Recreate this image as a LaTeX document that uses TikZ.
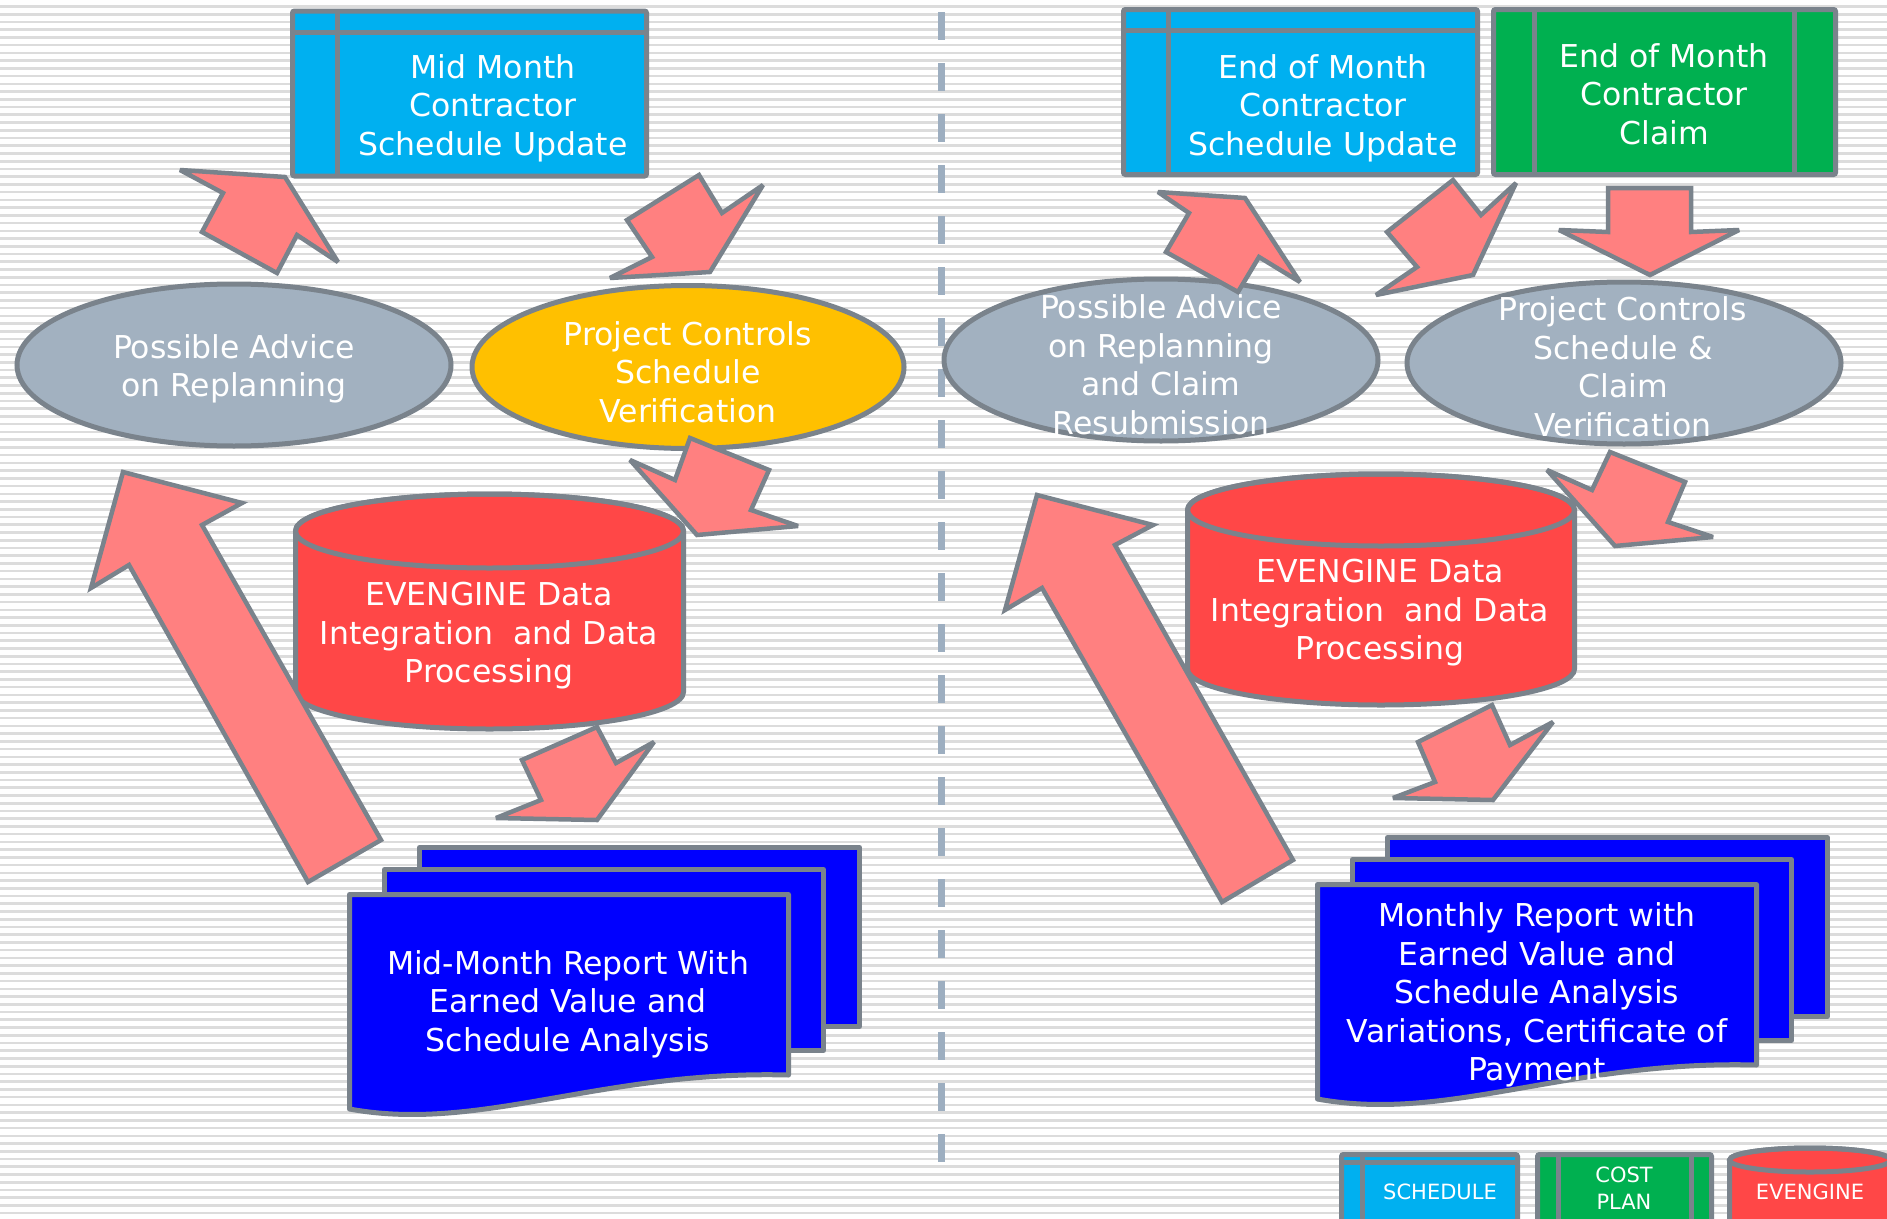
\documentclass[tikz,border=0pt]{standalone}
\usepackage{fontspec}
\setmainfont{DejaVu Sans}
\usetikzlibrary{shapes.geometric}
\definecolor{bord}{HTML}{7A838C}
\definecolor{stripe}{HTML}{DCDCDC}
\definecolor{schedblue}{HTML}{00B0F0}
\definecolor{costgreen}{HTML}{00B050}
\definecolor{evred}{HTML}{FF4747}
\definecolor{advgray}{HTML}{A2B1C0}
\definecolor{pcyellow}{HTML}{FFC000}
\definecolor{arrowpink}{HTML}{FF8080}
\definecolor{docblue}{HTML}{0000FF}
\definecolor{sepline}{HTML}{9DAEC0}
\tikzset{
  outl/.style={draw=bord, line width=5pt},
  boxshape/.style={rectangle, outl, outer sep=0pt, inner sep=0pt, rounded corners=2pt},
  schedbox/.style={boxshape, fill=schedblue},
  costbox/.style={boxshape, fill=costgreen},
  innerline/.style={draw=bord, line width=5pt},
  ellshape/.style={ellipse, outl, inner sep=0pt, outer sep=0pt, minimum width=434pt, minimum height=162pt},
  cylstyle/.style={fill=evred, draw=bord, line width=5pt},
  docsheet/.style={fill=docblue, draw=bord, line width=5pt, line join=round},
  blockarrow/.style={fill=arrowpink, draw=bord, line width=4.5pt, line join=miter, miter limit=3},
  lbl/.style={text=white, align=center, font=\fontsize{31.5}{38.5}\selectfont, inner sep=0pt},
  leglbl/.style={text=white, align=center, font=\fontsize{21}{27}\selectfont, inner sep=0pt},
}
\newcommand{\evcyl}[6]{%
  \pgfmathsetmacro{\cxa}{(#1+#2)/2}%
  \pgfmathsetmacro{\rxa}{(#2-#1)/2}%
  \pgfmathsetmacro{\kxa}{0.5523*\rxa}%
  \pgfmathsetmacro{\kya}{0.5523*#5}%
  \pgfmathsetmacro{\ybb}{#4+#5}%
  \pgfmathsetmacro{\ytt}{#3-#5}%
  \path[#6] (#1,#3) -- (#1,#4) .. controls (#1,#4+\kya) and (\cxa-\kxa,\ybb) .. (\cxa,\ybb)
    .. controls (\cxa+\kxa,\ybb) and (#2,#4+\kya) .. (#2,#4) -- (#2,#3)
    .. controls (#2,#3-\kya) and (\cxa+\kxa,\ytt) .. (\cxa,\ytt)
    .. controls (\cxa-\kxa,\ytt) and (#1,#3-\kya) .. (#1,#3) -- cycle;
  \draw[#6, fill=none] (\cxa,#3) ellipse [x radius=\rxa, y radius=#5];
}
\newcommand{\docstack}{%
  \draw[docsheet] (419.5,847.5) rectangle (859.5,1026.5);
  \draw[docsheet] (384.5,869.5) rectangle (823.5,1050.5);
  \draw[docsheet] (349.5,894.5) -- (788.5,894.5) -- (788.5,1075)
    .. controls (600,1070) and (480,1133) .. (349.5,1109) -- cycle;
}
\begin{document}
\begin{tikzpicture}[x=1pt,y=-1pt]
\useasboundingbox (0,0) rectangle (1887,1218);
\clip (0,0) rectangle (1887,1218);
\fill[white] (0,0) rectangle (1887,1218);
\foreach \k in {0,...,158} \fill[stripe] (0,{5.2+7.735*\k}) rectangle (1887,{7.8+7.735*\k});

% separator
\coordinate (septop) at (941,12);
\coordinate (sepbot) at (941,1165);
\draw[sepline, line width=7pt, dash pattern=on 28pt off 23pt] (septop) -- (sepbot);

% schedule / cost boxes
\node[schedbox, minimum width=354pt, minimum height=165pt] (mid) at (469.5,93.5) {};
\draw[innerline] ([xshift=44.5pt]mid.north west) -- ([xshift=44.5pt]mid.south west);
\draw[innerline] ([yshift=-21pt]mid.north west) -- ([yshift=-21pt]mid.north east);

\node[schedbox, minimum width=354pt, minimum height=165pt] (eomsched) at (1300.5,92) {};
\draw[innerline] ([xshift=44.5pt]eomsched.north west) -- ([xshift=44.5pt]eomsched.south west);
\draw[innerline] ([yshift=-21pt]eomsched.north west) -- ([yshift=-21pt]eomsched.north east);

\node[costbox, minimum width=342pt, minimum height=165pt] (eomclaim) at (1664.5,92) {};
\draw[innerline] ([xshift=40.5pt]eomclaim.north west) -- ([xshift=40.5pt]eomclaim.south west);
\draw[innerline] ([xshift=-41.5pt]eomclaim.north east) -- ([xshift=-41.5pt]eomclaim.south east);

% ellipses
\node[ellshape, fill=advgray] (adv1) at (234,365) {};
\node[ellshape, fill=pcyellow, minimum width=432pt, minimum height=163pt] (pcv1) at (688,367) {};
\node[ellshape, fill=advgray] (adv2) at (1161,360) {};
\node[ellshape, fill=advgray] (pcv2) at (1624,363) {};

% cylinders
\evcyl{295.5}{683.5}{531}{692}{37}{cylstyle}
\evcyl{1187.5}{1574.5}{510}{669}{36}{cylstyle}

% document stacks
\begin{scope}\docstack\end{scope}
\begin{scope}[shift={(968,-10)}]\docstack\end{scope}

% block arrows
\draw[blockarrow] (180,170) -- (285,177) -- (338,262) -- (297,235) -- (277,273) -- (202,232) -- (223,193) -- cycle;
\draw[blockarrow] (699,175) -- (722,213) -- (763,185) -- (710,272) -- (610,278) -- (652,257) -- (627,220) -- cycle;
\draw[blockarrow] (690,438) -- (769,470) -- (751,510) -- (798,526) -- (697,535) -- (630,460) -- (675,480) -- cycle;
\draw[blockarrow] (597,727) -- (616,763) -- (654,742) -- (597,820) -- (496,818) -- (541,800) -- (522,760) -- cycle;
\draw[blockarrow] (123,472) -- (242,503) -- (202,525) -- (381,840) -- (308,882) -- (129,565) -- (91,588) -- cycle;
\draw[blockarrow] (1158,192) -- (1245,198) -- (1300,282) -- (1259,257) -- (1238,292) -- (1166,252) -- (1189,213) -- cycle;
\draw[blockarrow] (1453,180) -- (1481,215) -- (1516,183) -- (1473,275) -- (1376,295) -- (1417,267) -- (1387,232) -- cycle;
\draw[blockarrow] (1608,188) -- (1691,188) -- (1691,232) -- (1739,230) -- (1650,275) -- (1559,230) -- (1608,232) -- cycle;
\draw[blockarrow] (1610,452) -- (1685,482) -- (1668,522) -- (1713,537) -- (1615,546) -- (1547,470) -- (1592,490) -- cycle;
\draw[blockarrow] (1492,705) -- (1510,745) -- (1553,722) -- (1493,800) -- (1393,798) -- (1435,782) -- (1418,742) -- cycle;
\draw[blockarrow] (1037,495) -- (1153,525) -- (1115,545) -- (1293,860) -- (1222,902) -- (1042,588) -- (1005,610) -- cycle;

% texts
\node[lbl] (midt) at (493,108) {Mid Month\\Contractor\\Schedule Update};
\node[lbl] (eomschedt) at (1323,108) {End of Month\\Contractor\\Schedule Update};
\node[lbl] (eomclaimt) at (1664,94) {End of Month\\Contractor\\Claim};
\node[lbl] (adv1t) at (234,369) {Possible Advice\\on Replanning};
\node[lbl] (pcv1t) at (688,372) {Project Controls\\Schedule\\Verification};
\node[lbl] (adv2t) at (1161,365) {Possible Advice\\on Replanning\\and Claim\\Resubmission};
\node[lbl] (pcv2t) at (1623,367) {Project Controls\\Schedule \&\\Claim\\Verification};
\node[lbl] (ev1) at (489,636) {EVENGINE Data\\Integration~ and Data\\Processing};
\node[lbl] (ev2) at (1380,613) {EVENGINE Data\\Integration~ and Data\\Processing};
\node[lbl] (rep1) at (568,1004) {Mid-Month Report With\\Earned Value and\\Schedule Analysis};
\node[lbl] (rep2) at (1537,995) {Monthly Report with\\Earned Value and\\Schedule Analysis\\Variations, Certificate of\\Payment};

% legend
\node[schedbox, minimum width=176pt, minimum height=90pt, anchor=north west] (legsched) at (1341.5,1154.5) {};
\draw[innerline] ([xshift=20.5pt]legsched.north west) -- ([xshift=20.5pt]legsched.south west);
\draw[innerline] ([yshift=-7.5pt]legsched.north west) -- ([yshift=-7.5pt]legsched.north east);
\node[leglbl] (legschedt) at (1440,1192) {SCHEDULE};

\node[costbox, minimum width=174pt, minimum height=90pt, anchor=north west] (legcost) at (1537.5,1154.5) {};
\draw[innerline] ([xshift=20.5pt]legcost.north west) -- ([xshift=20.5pt]legcost.south west);
\draw[innerline] ([xshift=-20.5pt]legcost.north east) -- ([xshift=-20.5pt]legcost.south east);
\node[leglbl] (legcostt) at (1624,1188) {COST\\PLAN};

\evcyl{1729.5}{1890.5}{1160}{1250}{12}{cylstyle}
\node[leglbl] (legev) at (1810,1192) {EVENGINE};
\end{tikzpicture}
\end{document}
